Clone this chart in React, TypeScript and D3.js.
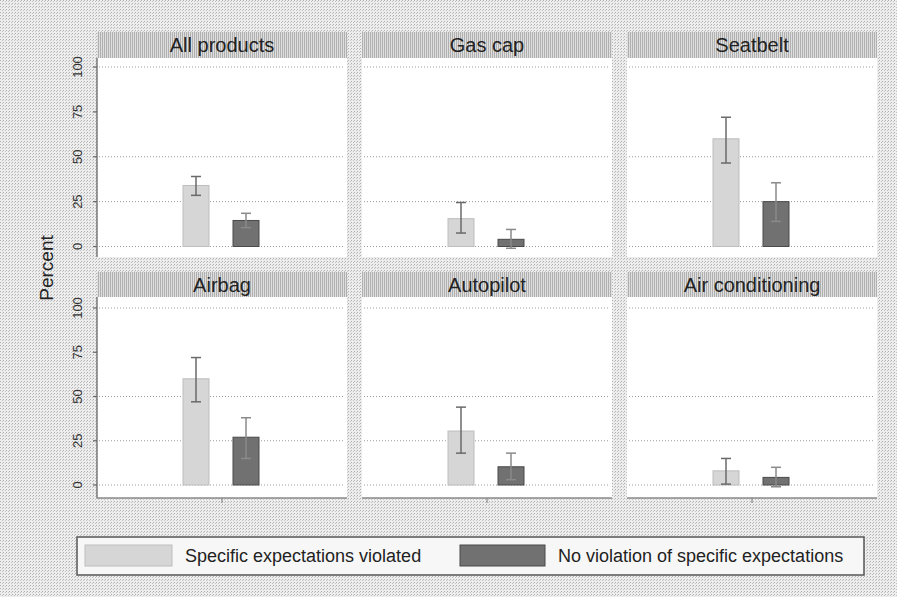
import React from "react";
import * as d3 from "d3";

const panels = ["All products", "Gas cap", "Seatbelt", "Airbag", "Autopilot", "Air conditioning"];
const seriesNames = ["Specific expectations violated", "No violation of specific expectations"];
const violated = [34, 15.5, 60, 60, 30.5, 8];
const violatedLo = [28.5, 7.5, 46.5, 47, 18, 0.5];
const violatedHi = [39, 24.5, 72, 72, 44, 15];
const noViolation = [14.5, 4, 25, 27, 10.3, 4.3];
const noViolationLo = [10.5, -1, 14, 15, 3, -1];
const noViolationHi = [18.5, 9.5, 35.5, 38, 18, 10];
const yTicks = [0, 25, 50, 75, 100];
const gridTicks = [0, 25, 50, 100];

const W = 897;
const H = 597;
const FONT = "'Liberation Sans', Arial, Helvetica, sans-serif";

const colX = [97, 362, 627];
const panelW = 250;
const rows = [
  { headTop: 32, plotTop: 58, plotBottom: 257, y0: 246.5, y100: 67 },
  { headTop: 272, plotTop: 297, plotBottom: 498, y0: 485, y100: 308 },
];

const LIGHT = "#d6d6d6";
const DARK = "#717171";

export default function App() {
  const series = [
    { name: seriesNames[0], v: violated, lo: violatedLo, hi: violatedHi, fill: LIGHT, stroke: "#bdbdbd", err: "#6a6a6a" },
    { name: seriesNames[1], v: noViolation, lo: noViolationLo, hi: noViolationHi, fill: DARK, stroke: "#4a4a4a", err: "#8a8a8a" },
  ];
  return (
    <svg width={W} height={H} style={{ position: "absolute", left: 0, top: 0, display: "block" }} fontFamily={FONT}>
      <defs>
        <pattern id="bgpat" width="3" height="3" patternUnits="userSpaceOnUse">
          <rect width="3" height="3" fill="#ededed" />
          <rect x="0" y="0" width="1" height="1" fill="#b0b0b0" />
          <rect x="2" y="1" width="1" height="1" fill="#c4c4c4" />
        </pattern>
        <pattern id="headpat" width="2" height="2" patternUnits="userSpaceOnUse">
          <rect width="2" height="2" fill="#dedede" />
          <rect x="0" y="0" width="1" height="2" fill="#b0b0b0" />
        </pattern>
      </defs>
      <rect width={W} height={H} fill="url(#bgpat)" />
      {panels.map((p, i) => {
        const r = rows[Math.floor(i / 3)];
        const c = i % 3;
        const x0 = colX[c];
        const cx = x0 + panelW / 2;
        const y = d3.scaleLinear().domain([0, 100]).range([r.y0, r.y100]);
        const xb = d3.scaleBand().domain(seriesNames).range([cx - 51, cx + 49]).paddingInner(0.48).paddingOuter(0.24);
        return (
          <g key={p}>
            <rect x={x0} y={r.headTop} width={panelW} height={r.plotTop - r.headTop} fill="url(#headpat)" />
            <text x={cx} y={r.headTop + 20} textAnchor="middle" fontSize={20} fill="#222">{p}</text>
            <rect x={x0} y={r.plotTop} width={panelW} height={r.plotBottom - r.plotTop} fill="#fff" />
            {gridTicks.map((t) => (
              <line key={t} x1={x0 + 2} x2={x0 + panelW - 2} y1={y(t)} y2={y(t)} stroke="#9a9a9a" strokeWidth={1} strokeDasharray="1 2" />
            ))}
            {series.map((s) => {
              const bx = xb(s.name)!;
              const bw = xb.bandwidth();
              const ex = bx + bw / 2;
              return (
                <g key={s.name}>
                  <rect x={bx} y={y(s.v[i])} width={bw} height={y(0) - y(s.v[i])} fill={s.fill} stroke={s.stroke} strokeWidth={1} />
                  <line x1={ex} x2={ex} y1={y(s.lo[i])} y2={y(s.hi[i])} stroke={s.err} strokeWidth={1.5} />
                  <line x1={ex - 5} x2={ex + 5} y1={y(s.lo[i])} y2={y(s.lo[i])} stroke={s.err} strokeWidth={1.5} />
                  <line x1={ex - 5} x2={ex + 5} y1={y(s.hi[i])} y2={y(s.hi[i])} stroke={s.err} strokeWidth={1.5} />
                </g>
              );
            })}
            {c === 0 && (
              <g>
                <line x1={x0} x2={x0} y1={r.plotTop} y2={r.plotBottom} stroke="#666" strokeWidth={1.3} />
                {yTicks.map((t) => (
                  <g key={t}>
                    <line x1={x0 - 4} x2={x0} y1={y(t)} y2={y(t)} stroke="#666" strokeWidth={1.2} />
                    <text transform={`translate(${x0 - 15},${y(t)}) rotate(-90)`} textAnchor="middle" fontSize={13} fill="#333">{t}</text>
                  </g>
                ))}
              </g>
            )}
            {r === rows[1] && (
              <g>
                <line x1={x0} x2={x0 + panelW} y1={r.plotBottom} y2={r.plotBottom} stroke="#8a8a8a" strokeWidth={1.5} />
                <line x1={cx} x2={cx} y1={r.plotBottom} y2={r.plotBottom + 5} stroke="#8a8a8a" strokeWidth={1.2} />
              </g>
            )}
          </g>
        );
      })}
      <text transform="translate(53,268) rotate(-90)" textAnchor="middle" fontSize={19} fill="#222">Percent</text>
      <rect x={77} y={537} width={787} height={38} fill="#f7f7f7" stroke="#555" strokeWidth={1.5} />
      <rect x={85} y={545} width={87} height={21} fill={LIGHT} stroke="#bdbdbd" />
      <text x={185} y={562} fontSize={18} fill="#222">{seriesNames[0]}</text>
      <rect x={460} y={545} width={85} height={21} fill={DARK} stroke="#4a4a4a" />
      <text x={558} y={562} fontSize={18} fill="#222">{seriesNames[1]}</text>
    </svg>
  );
}
